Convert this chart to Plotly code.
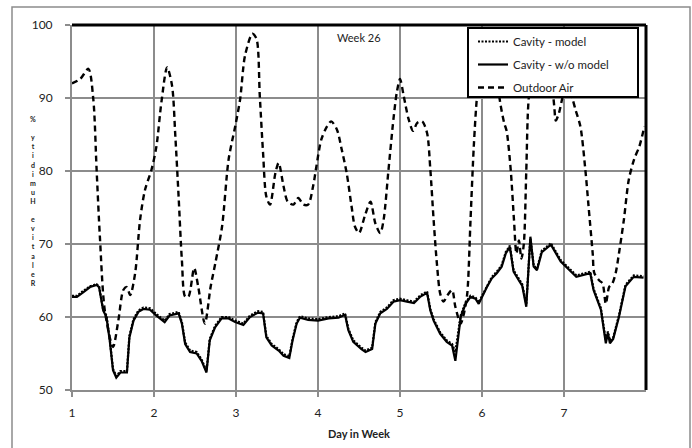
import plotly.graph_objects as go

# ---------------- data ----------------
outdoor_day = [1.00, 1.10, 1.20, 1.26, 1.30, 1.34, 1.40, 1.50, 1.565, 1.626, 1.667, 1.71, 1.77, 1.83, 1.89, 1.97,
               2.03, 2.09, 2.16, 2.22, 2.26, 2.30, 2.34, 2.38, 2.42, 2.49, 2.54, 2.62, 2.69, 2.75, 2.83, 2.91, 2.99,
               3.05, 3.11, 3.20, 3.25, 3.29, 3.33, 3.37, 3.415, 3.48, 3.52, 3.58, 3.63, 3.70, 3.76, 3.82, 3.88, 3.94, 3.98,
               4.04, 4.11, 4.16, 4.23, 4.29, 4.35, 4.41, 4.45, 4.50, 4.575, 4.64, 4.70, 4.76, 4.80, 4.86, 4.92, 4.96,
               5.00, 5.045, 5.105, 5.16, 5.21, 5.27, 5.33, 5.37, 5.41, 5.45, 5.49, 5.53, 5.58, 5.635, 5.675, 5.74, 5.78,
               5.82, 5.86, 5.90, 5.94, 6.00, 6.08, 6.16, 6.22, 6.27, 6.30, 6.35, 6.39, 6.42, 6.45, 6.48, 6.51, 6.54,
               6.57, 6.64, 6.72, 6.82, 6.88, 6.90, 6.94, 6.98, 7.03, 7.10, 7.14, 7.20, 7.26, 7.30, 7.35, 7.37, 7.43,
               7.47, 7.51, 7.55, 7.59, 7.63, 7.67, 7.73, 7.79, 7.855, 7.92, 7.98]
outdoor_rh = [92.0, 92.6, 94.0, 89.8, 80.2, 71.0, 60.9, 55.9, 59.5, 63.7, 64.1, 63.0, 66.0, 73.3, 77.4, 80.2,
              83.4, 89.4, 94.2, 91.7, 84.8, 76.5, 67.8, 62.8, 62.8, 66.7, 64.1, 59.1, 64.1, 67.5, 72.4, 81.6, 86.1,
              89.8, 95.8, 98.8, 98.1, 90.3, 82.5, 76.5, 75.4, 79.7, 81.1, 77.9, 75.8, 75.4, 76.3, 75.4, 75.4, 77.9, 80.6,
              84.3, 86.1, 86.8, 85.7, 82.9, 79.7, 75.1, 72.4, 71.5, 74.0, 75.8, 72.8, 71.5, 73.3, 80.2, 87.1, 90.7,
              92.6, 90.3, 87.1, 85.5, 86.6, 86.8, 85.2, 80.2, 73.3, 67.3, 63.2, 62.1, 63.0, 63.7, 61.4, 59.1, 60.5,
              63.2, 73.3, 83.4, 90.3, 95.5, 97.5, 95.0, 89.5, 86.6, 85.5, 80.2, 73.3, 68.7, 70.5, 68.0, 70.0, 80.0,
              90.0, 95.5, 97.0, 94.5, 89.0, 86.9, 88.0, 90.0, 92.0, 90.0, 88.4, 86.1, 80.2, 75.1, 68.7, 66.0, 65.0,
              64.6, 61.8, 64.1, 64.6, 66.0, 68.7, 73.3, 78.8, 81.6, 83.4, 86.1]

cavity_day = [1.00, 1.06, 1.14, 1.22, 1.30, 1.33, 1.38, 1.42, 1.46, 1.50, 1.54, 1.59, 1.67, 1.70, 1.75, 1.81, 1.87,
              1.95, 2.03, 2.13, 2.19, 2.30, 2.34, 2.38, 2.44, 2.52, 2.58, 2.64, 2.68, 2.745, 2.825, 2.91, 2.99, 3.09,
              3.17, 3.27, 3.33, 3.37, 3.435, 3.52, 3.58, 3.65, 3.69, 3.74, 3.78, 3.88, 4.00, 4.13, 4.25, 4.33, 4.37,
              4.43, 4.53, 4.58, 4.66, 4.70, 4.76, 4.84, 4.92, 5.00, 5.085, 5.17, 5.25, 5.33, 5.37, 5.41, 5.49, 5.57,
              5.635, 5.675, 5.74, 5.80, 5.86, 5.92, 5.96, 6.00, 6.06, 6.12, 6.18, 6.24, 6.29, 6.34, 6.385, 6.45,
              6.49, 6.54, 6.59, 6.63, 6.67, 6.73, 6.84, 6.96, 7.08, 7.15, 7.32, 7.36, 7.45, 7.51, 7.535, 7.56, 7.60,
              7.67, 7.75, 7.85, 7.97]
cavity_wo_model = [62.75, 62.75, 63.4, 64.1, 64.4, 64.1, 60.9, 60.0, 56.8, 52.7, 51.7, 52.4, 52.4, 57.2, 59.5, 60.7, 61.1,
                   61.0, 60.2, 59.3, 60.2, 60.5, 59.1, 56.3, 55.2, 55.0, 54.0, 52.4, 56.8, 58.6, 59.8, 59.8, 59.3, 58.9,
                   60.0, 60.6, 60.5, 57.2, 56.1, 55.4, 54.7, 54.4, 56.8, 59.1, 59.9, 59.6, 59.5, 59.8, 59.9, 60.3, 58.2,
                   56.6, 55.6, 55.2, 55.6, 59.1, 60.5, 61.1, 62.1, 62.3, 62.1, 61.9, 62.8, 63.3, 60.9, 59.5, 57.7, 56.6,
                   56.1, 54.0, 60.0, 61.8, 62.75, 62.5, 61.8, 62.75, 64.1, 65.3, 66.0, 66.9, 68.7, 69.6, 66.2, 65.0,
                   64.3, 61.4, 71.0, 66.9, 66.4, 68.9, 69.9, 67.6, 66.2, 65.5, 66.0, 63.7, 61.0, 56.4, 57.8, 56.4, 57.0,
                   60.0, 64.2, 65.5, 65.4]
cavity_model = [62.9, 62.9, 63.6, 64.2, 64.5, 64.2, 61.0, 60.2, 57.0, 52.9, 51.9, 52.6, 52.6, 57.4, 59.7, 60.9, 61.3,
                61.2, 60.4, 59.5, 60.4, 60.7, 59.3, 56.5, 55.4, 55.2, 54.2, 52.6, 57.0, 58.8, 60.0, 60.0, 59.5, 59.1,
                60.2, 60.8, 60.7, 57.4, 56.3, 55.6, 54.9, 54.6, 57.0, 59.3, 60.1, 59.8, 59.7, 60.0, 60.1, 60.5, 58.4,
                56.8, 55.8, 55.4, 55.8, 59.3, 60.7, 61.3, 62.3, 62.5, 62.3, 62.1, 63.0, 63.5, 61.1, 59.7, 57.9, 56.8,
                56.3, 55.2, 60.2, 62.0, 62.9, 62.7, 62.0, 62.9, 64.3, 65.5, 66.2, 67.1, 68.9, 69.8, 66.4, 65.2,
                64.5, 61.8, 70.8, 67.1, 66.6, 69.1, 70.1, 67.8, 66.4, 65.7, 66.2, 63.9, 61.2, 56.8, 58.0, 56.8, 57.2,
                60.2, 64.4, 65.7, 65.6]

day_ticks = [1, 2, 3, 4, 5, 6, 7]
rh_ticks = [50, 60, 70, 80, 90, 100]
y_title = "Relative Humidity %"
x_title = "Day in Week"
week_label = "Week 26"

# ---------------- figure ----------------
FONT = "Lato, 'Open Sans', sans-serif"
W, H = 692, 448
ML, MR, MT, MB = 72, 46, 25, 58
PW, PH = W - ML - MR, H - MT - MB

def px_x(px):
    return (px - ML) / PW

def px_y(py):
    return (H - MB - py) / PH

fig = go.Figure()
fig.add_trace(go.Scatter(x=cavity_day, y=cavity_wo_model, name="Cavity - w/o model", mode="lines",
                         legendrank=2, legendgroup="b",
                         line=dict(color="black", width=2.2)))
fig.add_trace(go.Scatter(x=cavity_day, y=cavity_model, name="Cavity - model", mode="lines",
                         legendrank=1, legendgroup="a",
                         line=dict(color="black", width=2.2, dash="2px,1.5px")))
fig.add_trace(go.Scatter(x=outdoor_day, y=outdoor_rh, name="Outdoor Air", mode="lines",
                         legendrank=3, legendgroup="c",
                         line=dict(color="black", width=2.4, dash="6px,4px", shape="spline", smoothing=0.8)))

shapes = [
    # outer chart border
    dict(type="rect", xref="paper", yref="paper", x0=px_x(12), x1=px_x(690), y0=px_y(455), y1=px_y(7),
         line=dict(color="#8c8c8c", width=1.5), layer="below"),
    # top and right plot-area border
    dict(type="line", xref="paper", yref="paper", x0=0, x1=1, y0=1, y1=1, line=dict(color="black", width=3)),
    dict(type="line", xref="paper", yref="paper", x0=1, x1=1, y0=0, y1=1, line=dict(color="black", width=3)),
    # legend box
    dict(type="rect", xref="paper", yref="paper", x0=px_x(468), x1=px_x(638), y0=px_y(97), y1=px_y(28),
         fillcolor="white", line=dict(color="black", width=2), layer="above"),
]

annotations = [
    dict(text=week_label, xref="paper", yref="paper", x=px_x(335), y=px_y(38), xanchor="left", yanchor="middle",
         showarrow=False, font=dict(family=FONT, size=11, color="#222")),
    dict(text="<b>" + x_title + "</b>", xref="paper", yref="paper", x=px_x(359), y=px_y(433),
         xanchor="center", yanchor="middle", showarrow=False, font=dict(family=FONT, size=11, color="#222")),
    dict(text="<br>".join("<b>" + (c if c != " " else "&nbsp;") + "</b>" for c in reversed(y_title)),
         xref="paper", yref="paper", x=px_x(33), y=px_y(201), xanchor="center", yanchor="middle",
         showarrow=False, font=dict(family=FONT, size=7, color="#222")),
]

fig.update_layout(
    width=W, height=H,
    margin=dict(l=ML, r=MR, t=MT, b=MB),
    paper_bgcolor="white", plot_bgcolor="white",
    font=dict(family=FONT, size=12, color="#222"),
    showlegend=True,
    legend=dict(x=px_x(473), y=px_y(27), xanchor="left", yanchor="top", bgcolor="rgba(0,0,0,0)",
                borderwidth=0, traceorder="grouped", tracegroupgap=4,
                font=dict(family=FONT, size=11.5, color="#222")),
    shapes=shapes,
    annotations=annotations,
    xaxis=dict(range=[1, 8], tickvals=day_ticks, ticktext=[str(d) for d in day_ticks],
               showgrid=True, gridcolor="#8c8c8c", gridwidth=2, zeroline=False,
               showline=True, linecolor="#8c8c8c", linewidth=2, ticks="outside", ticklen=5,
               tickcolor="#8c8c8c", tickwidth=1.5, tickfont=dict(family=FONT, size=12, color="#222"),
               ticklabelstandoff=6),
    yaxis=dict(range=[50, 100], tickvals=rh_ticks, showgrid=True, gridcolor="#8c8c8c", gridwidth=2,
               zeroline=False, showline=True, linecolor="#8c8c8c", linewidth=2, ticks="outside", ticklen=5,
               tickcolor="#8c8c8c", tickwidth=1.5, tickfont=dict(family=FONT, size=12, color="#222"),
               ticklabelstandoff=10),
)

fig.write_html("out.html")
